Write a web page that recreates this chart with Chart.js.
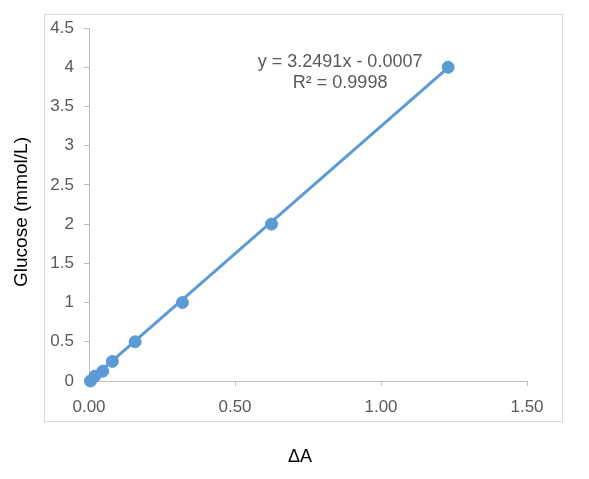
<!DOCTYPE html>
<html>
<head>
<meta charset="utf-8">
<script src="https://cdn.jsdelivr.net/npm/chart.js@4"></script>
<style>
  html, body { margin: 0; padding: 0; background: #fff; }
  #wrap { width: 589px; height: 479px; }
</style>
</head>
<body>
<div id="wrap"><canvas id="chart"></canvas></div>
<script>
// absorbance change vs glucose standard
const deltaA = [0.005, 0.02, 0.047, 0.08, 0.158, 0.32, 0.625, 1.23];
const glucose = [0, 0.0625, 0.125, 0.25, 0.5, 1, 2, 4];

// trendline from the picture
const slope = 3.2491;
const intercept = -0.0007;
const rSquared = 0.9998;
const equationLines = ['y = ' + slope + 'x - ' + Math.abs(intercept).toFixed(4), 'R\u00b2 = ' + rSquared];

const xTicks = [0, 0.5, 1, 1.5];
const yTicks = [0, 0.5, 1, 1.5, 2, 2.5, 3, 3.5, 4, 4.5];

const xTitle = '\u0394A';
const yTitle = 'Glucose (mmol/L)';

const blue = '#5b9bd5';
const axisGray = '#bfbfbf';
const textGray = '#595959';
const fontName = '"Liberation Sans", Arial, sans-serif';

const xMin = Math.min(...deltaA);
const xMax = Math.max(...deltaA);
const trend = [
  { x: xMin, y: slope * xMin + intercept },
  { x: xMax, y: slope * xMax + intercept }
];

/* frame, axis titles and equation label */
const extras = {
  id: 'extras',
  beforeDraw(chart) {
    const ctx = chart.ctx;
    ctx.save();
    ctx.strokeStyle = '#d9d9d9';
    ctx.lineWidth = 1;
    ctx.strokeRect(44.5, 14.5, 518, 407);
    ctx.restore();
  },
  afterDraw(chart) {
    const ctx = chart.ctx;
    const x = chart.scales.x.getPixelForValue(0.86);
    const y = chart.scales.y.getPixelForValue(4.07);
    ctx.save();
    ctx.fillStyle = textGray;
    ctx.font = '18px ' + fontName;
    ctx.textAlign = 'center';
    ctx.textBaseline = 'middle';
    ctx.fillText(equationLines[0], x, y);
    ctx.fillText(equationLines[1], x, y + 21);

    ctx.fillStyle = '#000';
    ctx.font = '18px ' + fontName;
    ctx.fillText(xTitle, 300, 457);

    ctx.translate(22, 212);
    ctx.rotate(-Math.PI / 2);
    ctx.font = '19px ' + fontName;
    ctx.fillText(yTitle, 0, 0);
    ctx.restore();
  }
};

new Chart(document.getElementById('chart'), {
  type: 'scatter',
  data: {
    datasets: [
      {
        label: 'Trend',
        data: trend,
        showLine: true,
        borderColor: blue,
        borderWidth: 3,
        pointRadius: 0,
        clip: false
      },
      {
        label: 'Glucose',
        data: deltaA.map((v, i) => ({ x: v, y: glucose[i] })),
        backgroundColor: blue,
        borderColor: blue,
        pointRadius: 6,
        pointHoverRadius: 6,
        clip: false
      }
    ]
  },
  options: {
    responsive: true,
    maintainAspectRatio: false,
    animation: false,
    layout: { padding: { left: 0, top: 28, right: 62, bottom: 0 } },
    plugins: {
      legend: { display: false },
      tooltip: { enabled: false }
    },
    scales: {
      x: {
        type: 'linear',
        min: 0,
        max: 1.5,
        afterBuildTicks: scale => { scale.ticks = xTicks.map(v => ({ value: v })); },
        afterFit: scale => { scale.height = 98; },
        border: { display: true, color: axisGray, width: 1 },
        grid: { display: true, drawOnChartArea: false, drawTicks: true, tickLength: 5, color: axisGray },
        ticks: {
          color: textGray,
          font: { family: fontName, size: 17 },
          padding: 11,
          maxRotation: 0,
          callback: v => v.toFixed(2)
        }
      },
      y: {
        type: 'linear',
        min: 0,
        max: 4.5,
        afterBuildTicks: scale => { scale.ticks = yTicks.map(v => ({ value: v })); },
        afterFit: scale => { scale.width = 89; },
        border: { display: true, color: axisGray, width: 1 },
        grid: { display: true, drawOnChartArea: false, drawTicks: true, tickLength: 5, color: axisGray },
        ticks: {
          color: textGray,
          font: { family: fontName, size: 17 },
          padding: 10,
          callback: v => String(v)
        }
      }
    }
  },
  plugins: [extras]
});
</script>
</body>
</html>
